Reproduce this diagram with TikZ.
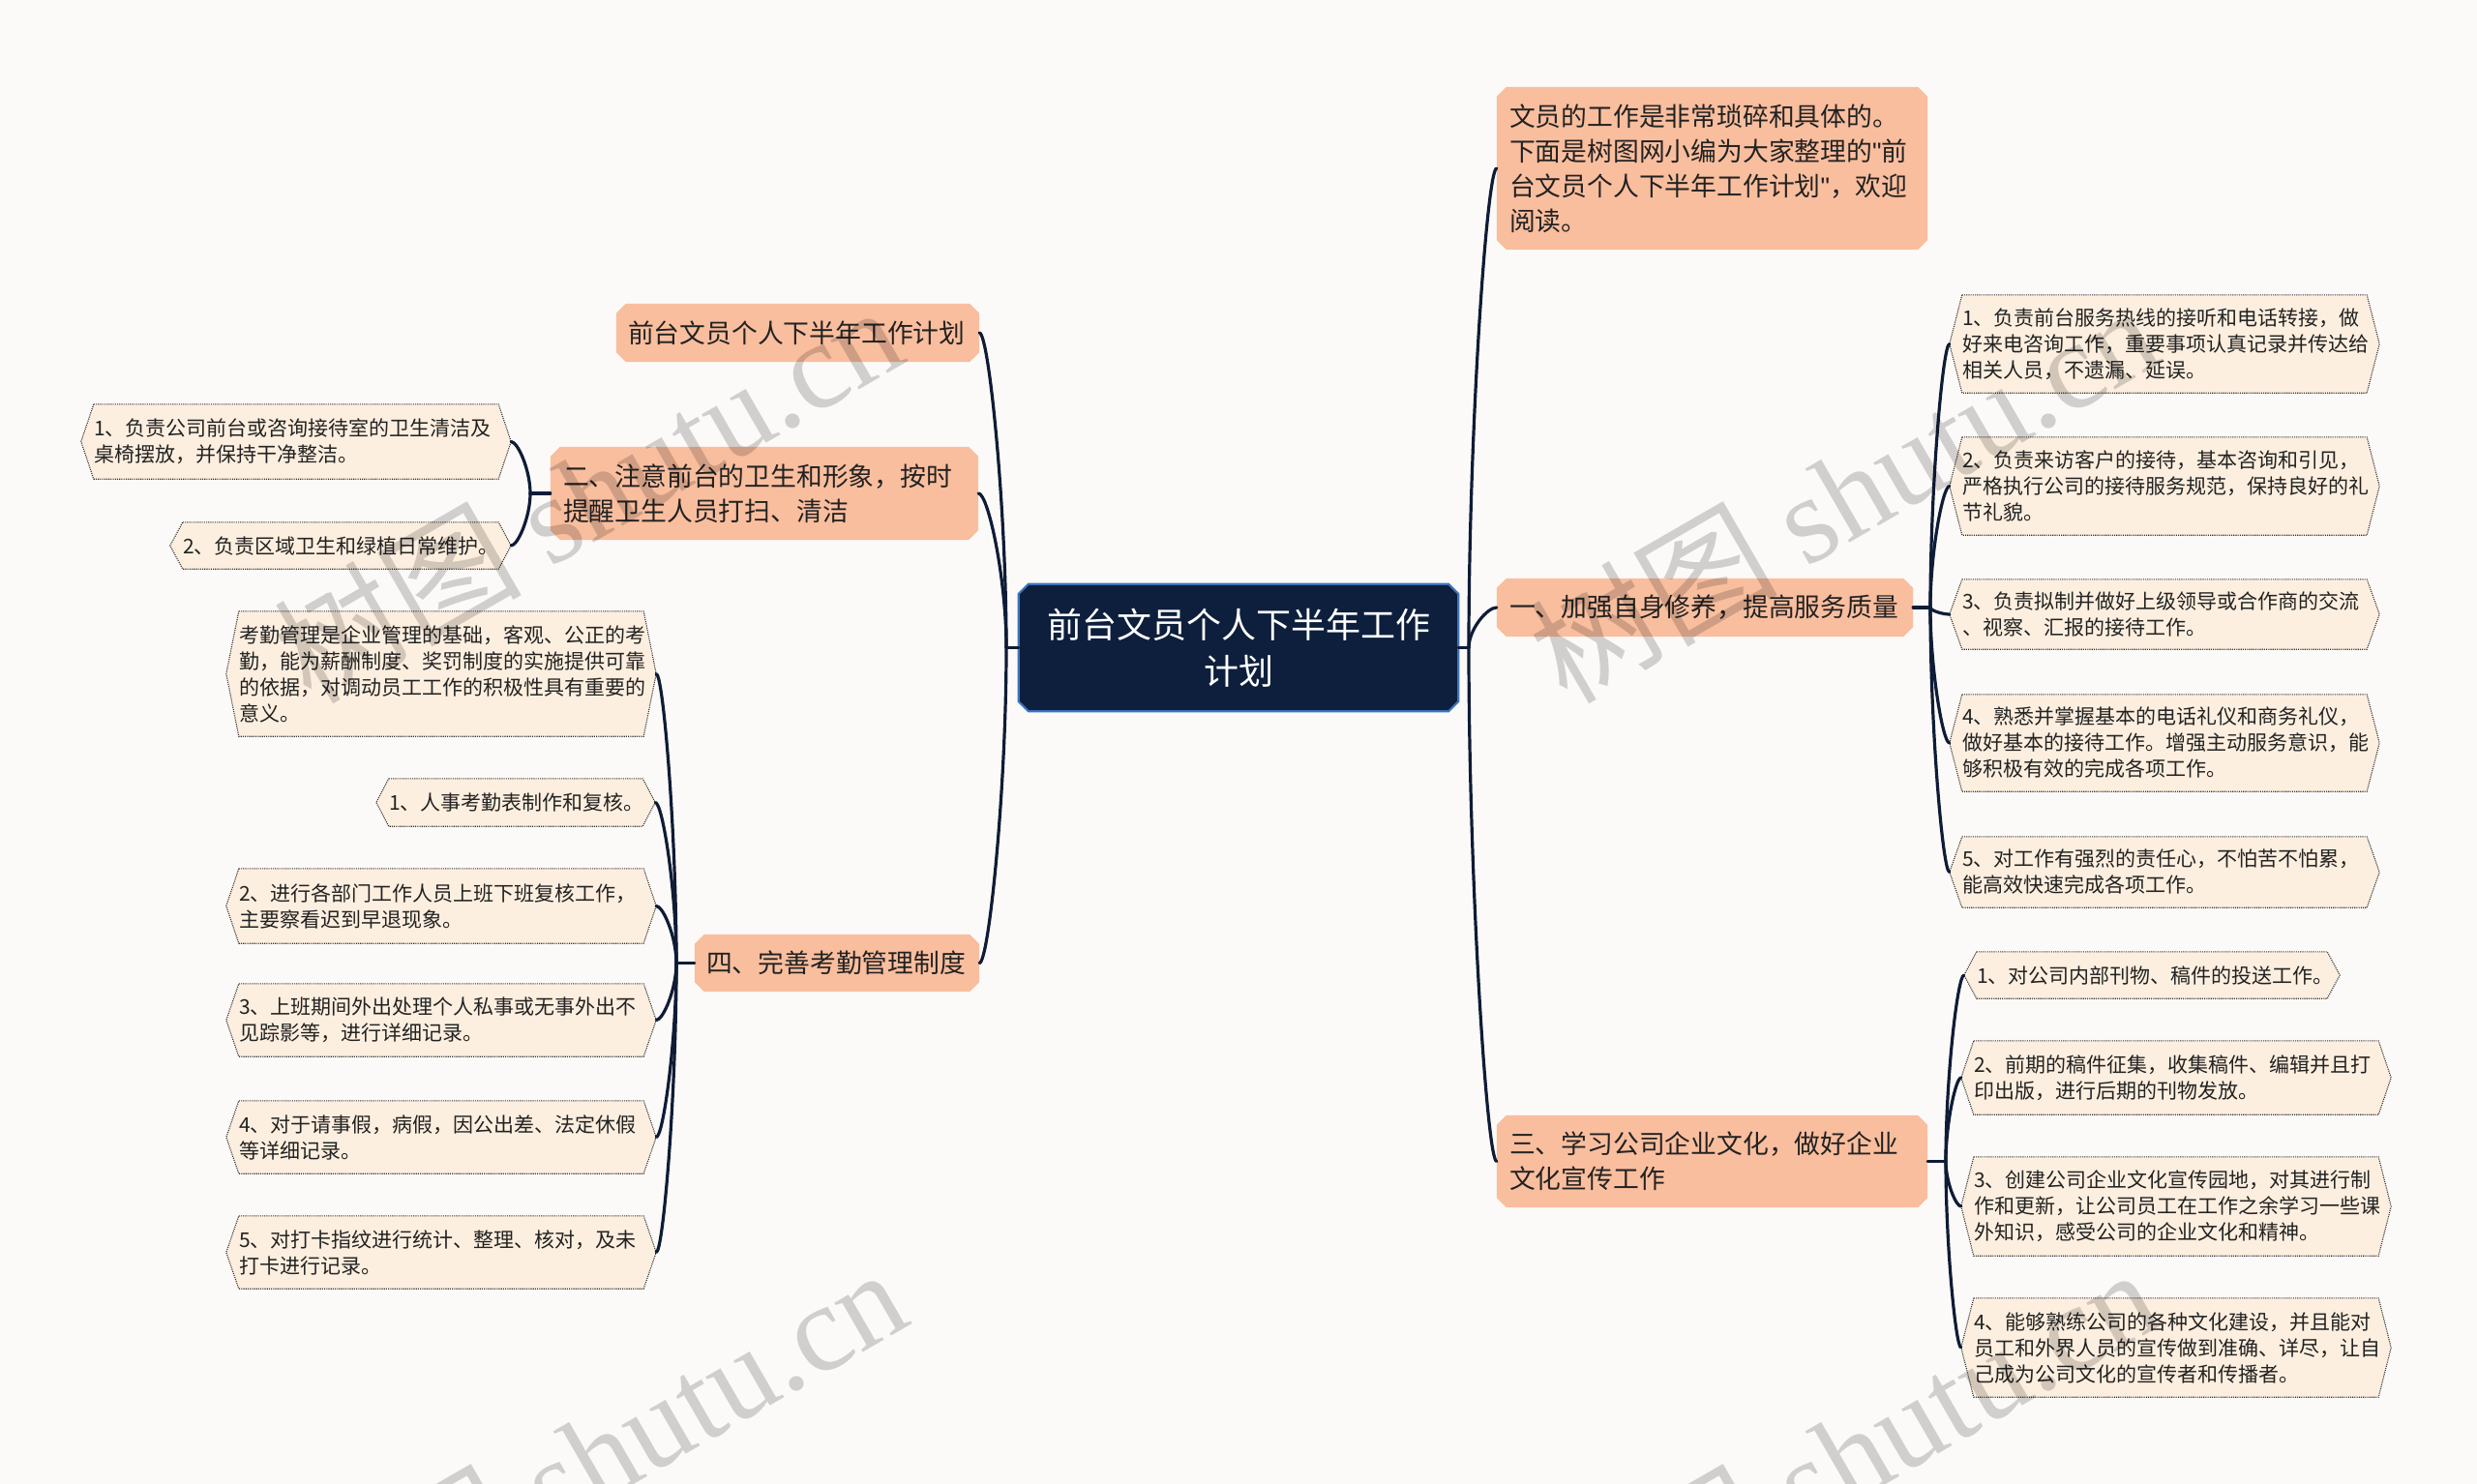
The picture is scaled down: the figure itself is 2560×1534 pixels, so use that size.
\documentclass[tikz,border=0pt]{standalone}
\usepackage{fontspec}
\setmainfont{Noto Sans CJK SC}
\newfontfamily\wmlatin{Liberation Serif}
\newfontfamily\qfont{Liberation Sans}
\usetikzlibrary{calc,backgrounds}
\definecolor{bgc}{HTML}{FCFAF8}
\definecolor{salmon}{HTML}{F9BE9E}
\definecolor{cream}{HTML}{FDEFDF}
\definecolor{navy}{HTML}{0E1C36}
\definecolor{rootfill}{HTML}{0D1F3C}
\definecolor{rootline}{HTML}{3C72BE}
\definecolor{txt}{HTML}{222222}
\definecolor{dotc}{HTML}{333333}
\tikzset{
  mainbox/.style={inner sep=0pt, text=txt, font=\fontsize{26.8}{36}\selectfont, align=left},
  rootbox/.style={inner sep=0pt, text=white, font=\fontsize{36}{48}\selectfont, align=center},
  leafbox/.style={inner xsep=13pt, inner ysep=0pt, text=txt, font=\fontsize{21}{27}\selectfont, align=left},
  link/.style={draw=navy, line width=3.2pt, line cap=round},
  leafshape/.style={fill=cream, draw=dotc, line width=1.1pt, dash pattern=on 1.1pt off 1.1pt},
  wm/.style={text=black, text opacity=0.17, font=\fontsize{128}{128}\selectfont, inner sep=0pt},
}
\newcommand\octo[2]{\path[#2] ($(#1.north west)+(10,0)$) -- ($(#1.north east)+(-10,0)$) -- ($(#1.north east)+(0,10)$) -- ($(#1.south east)+(0,-10)$) -- ($(#1.south east)+(-10,0)$) -- ($(#1.south west)+(10,0)$) -- ($(#1.south west)+(0,-10)$) -- ($(#1.north west)+(0,10)$) -- cycle;}
\newcommand\hexo[1]{\path[leafshape] ($(#1.north west)+(13,0)$) -- ($(#1.north east)+(-13,0)$) -- (#1.east) -- ($(#1.south east)+(-13,0)$) -- ($(#1.south west)+(13,0)$) -- (#1.west) -- cycle;}
\newcommand\branch[2]{\draw[link] (#1) .. controls ($(#1)!0.45!(#1|-#2)$) and ($(#2)!0.35!(#1|-#2)$) .. (#2);}
\newcommand\sq{{\qfont\symbol{34}}}
\begin{document}
\begin{tikzpicture}[x=1pt,y=-1pt]
\path[use as bounding box] (0,0) rectangle (2560,1534);

% root
\node[rootbox, minimum width=454, minimum height=131, text width=430] (root) at (1280,669.5) {前台文员个人下半年工作\\计划};

% main nodes left
\node[mainbox, minimum width=375, minimum height=60, text width=351] (t0) at (824.5,344) {前台文员个人下半年工作计划};
\node[mainbox, minimum width=442, minimum height=96, text width=416] (m2) at (790,510) {二、注意前台的卫生和形象，按时\\提醒卫生人员打扫、清洁};
\node[mainbox, minimum width=294, minimum height=59, text width=270] (m4) at (865,995.5) {四、完善考勤管理制度};

% main nodes right
\node[mainbox, minimum width=445, minimum height=168, text width=419] (intro) at (1769.5,174) {文员的工作是非常琐碎和具体的。\\下面是树图网小编为大家整理的\sq 前\\台文员个人下半年工作计划\sq，欢迎\\阅读。};
\node[mainbox, minimum width=430, minimum height=60, text width=404] (m1) at (1762,628) {一、加强自身修养，提高服务质量};
\node[mainbox, minimum width=445, minimum height=95, text width=419] (m3) at (1769.5,1200.5) {三、学习公司企业文化，做好企业\\文化宣传工作};

% leaves of 一
\node[leafbox, text width=418, minimum height=101] (a1) at (2237,355.5) {1、负责前台服务热线的接听和电话转接，做\\好来电咨询工作，重要事项认真记录并传达给\\相关人员，不遗漏、延误。};
\node[leafbox, text width=418, minimum height=101] (a2) at (2237,502.5) {2、负责来访客户的接待，基本咨询和引见，\\严格执行公司的接待服务规范，保持良好的礼\\节礼貌。};
\node[leafbox, text width=418, minimum height=72] (a3) at (2237,635) {3、负责拟制并做好上级领导或合作商的交流\\、视察、汇报的接待工作。};
\node[leafbox, text width=418, minimum height=100] (a4) at (2237,768) {4、熟悉并掌握基本的电话礼仪和商务礼仪，\\做好基本的接待工作。增强主动服务意识，能\\够积极有效的完成各项工作。};
\node[leafbox, text width=418, minimum height=73] (a5) at (2237,901.5) {5、对工作有强烈的责任心，不怕苦不怕累，\\能高效快速完成各项工作。};

% leaves of 三
\node[leafbox, text width=362, minimum height=48] (b1) at (2224,1008) {1、对公司内部刊物、稿件的投送工作。};
\node[leafbox, text width=418, minimum height=76] (b2) at (2249,1114) {2、前期的稿件征集，收集稿件、编辑并且打\\印出版，进行后期的刊物发放。};
\node[leafbox, text width=418, minimum height=102] (b3) at (2249,1247) {3、创建公司企业文化宣传园地，对其进行制\\作和更新，让公司员工在工作之余学习一些课\\外知识，感受公司的企业文化和精神。};
\node[leafbox, text width=418, minimum height=102] (b4) at (2249,1393) {4、能够熟练公司的各种文化建设，并且能对\\员工和外界人员的宣传做到准确、详尽，让自\\己成为公司文化的宣传者和传播者。};

% leaves of 二
\node[leafbox, text width=418, minimum height=77] (d1) at (306,456.5) {1、负责公司前台或咨询接待室的卫生清洁及\\桌椅摆放，并保持干净整洁。};
\node[leafbox, text width=326, minimum height=48] (d2) at (352,564) {2、负责区域卫生和绿植日常维护。};

% leaves of 四
\node[leafbox, text width=418, minimum height=129] (e0) at (456,696.5) {考勤管理是企业管理的基础，客观、公正的考\\勤，能为薪酬制度、奖罚制度的实施提供可靠\\的依据，对调动员工工作的积极性具有重要的\\意义。};
\node[leafbox, text width=262, minimum height=49] (e1) at (533,829.5) {1、人事考勤表制作和复核。};
\node[leafbox, text width=418, minimum height=77] (e2) at (456,936.5) {2、进行各部门工作人员上班下班复核工作，\\主要察看迟到早退现象。};
\node[leafbox, text width=418, minimum height=75] (e3) at (456,1054.5) {3、上班期间外出处理个人私事或无事外出不\\见踪影等，进行详细记录。};
\node[leafbox, text width=418, minimum height=75] (e4) at (456,1175.5) {4、对于请事假，病假，因公出差、法定休假\\等详细记录。};
\node[leafbox, text width=418, minimum height=75] (e5) at (456,1294.5) {5、对打卡指纹进行统计、整理、核对，及未\\打卡进行记录。};

% shapes behind
\begin{pgfonlayer}{background}
\fill[bgc] (0,0) rectangle (2560,1534);
\octo{root}{fill=rootfill, draw=rootline, line width=2.2pt}
\foreach \n in {t0,m2,m4,intro,m1,m3} {\octo{\n}{fill=salmon}}
\foreach \n in {a1,a2,a3,a4,a5,b1,b2,b3,b4,d1,d2,e0,e1,e2,e3,e4,e5} {\hexo{\n}}
\end{pgfonlayer}

% junctions
\coordinate (JL) at (1040,669.5);
\coordinate (JR) at (1518,669.5);
\coordinate (J2) at (548,510);
\coordinate (J4) at (699,995.5);
\coordinate (J1) at (1995,628);
\coordinate (J3) at (2011,1200.5);

% connectors
\draw[link] (root.west) -- (JL);
\draw[link] (root.east) -- (JR);
\draw[link] (m2.west) -- (J2);
\draw[link] (m4.west) -- (J4);
\draw[link] (m1.east) -- (J1);
\draw[link] (m3.east) -- (J3);
\foreach \n in {t0,m2,m4} {\branch{JL}{\n.east}}
\foreach \n in {intro,m1,m3} {\branch{JR}{\n.west}}
\foreach \n in {d1,d2} {\branch{J2}{\n.east}}
\foreach \n in {e0,e1,e2,e3,e4,e5} {\branch{J4}{\n.east}}
\foreach \n in {a1,a2,a3,a4,a5} {\branch{J1}{\n.west}}
\foreach \n in {b1,b2,b3,b4} {\branch{J3}{\n.west}}

% watermarks
\node[wm, rotate=30, anchor=base east] (w1) at (941,372) {树图 {\wmlatin shutu.cn}};
\node[wm, rotate=30, anchor=base east] (w2) at (2239,372) {树图 {\wmlatin shutu.cn}};
\node[wm, rotate=30, anchor=base east] (w3) at (945,1367) {树图 {\wmlatin shutu.cn}};
\node[wm, rotate=30, anchor=base east] (w4) at (2239,1367) {树图 {\wmlatin shutu.cn}};
\end{tikzpicture}
\end{document}
